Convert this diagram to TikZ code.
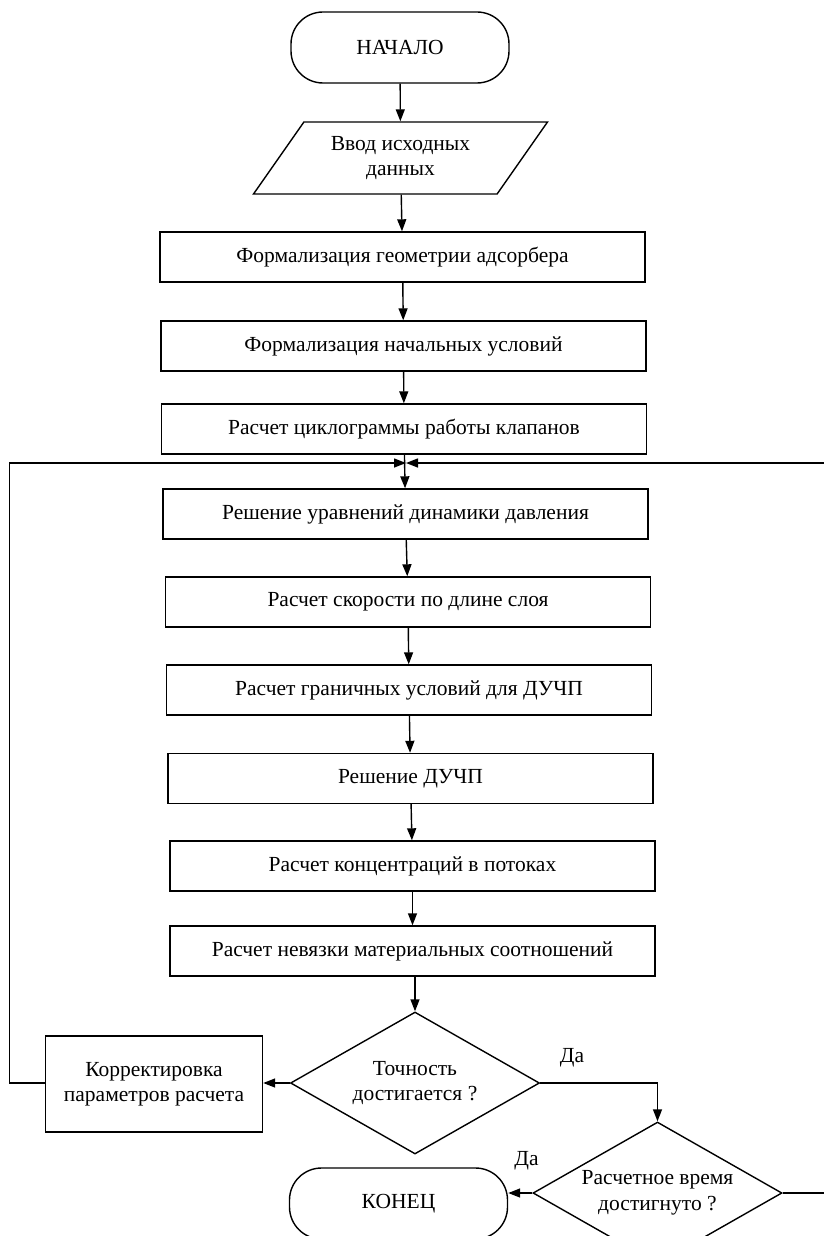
\documentclass[tikz,border=0pt]{standalone}
\usepackage{fontspec}
\setmainfont{Liberation Serif}
\usetikzlibrary{arrows.meta,positioning,shapes.geometric,shapes.misc}

\tikzset{
  blok/.style={draw, line width=1.4pt, minimum width=485pt, minimum height=50pt, inner sep=0pt},
  terminal/.style={draw, line width=1.4pt, rounded corners=32pt, minimum width=218pt, minimum height=71pt},
  romb/.style={draw, diamond, aspect=1.75, line width=1.4pt, minimum width=249pt, minimum height=142pt, inner sep=0pt, align=center},
  strelka/.style={line width=1.4pt, -{Triangle[length=12pt,width=9pt]}}
}

\begin{document}
\begin{tikzpicture}[x=1pt, y=-1pt, every node/.append style={font=\fontsize{21.5}{25.5}\selectfont}]
            \useasboundingbox (0,0) rectangle (823,1236);

            % Начало и ввод
            \node[terminal] (nachalo) at (400,47.5) {НАЧАЛО};
            \node[draw, trapezium, trapezium left angle=45, trapezium right angle=135,
                  trapezium stretches body, line width=1.4pt, minimum width=294pt,
                  minimum height=72pt, align=center] (vvod) at (400.5,158) {Ввод исходных\\данных};

            % Блоки
            \node[blok] (geom) at (402.5,257) {Формализация геометрии адсорбера};
            \node[blok] (usl) at (403.5,346) {Формализация начальных условий};
            \node[blok] (cikl) at (404,429) {Расчет циклограммы работы клапанов};
            \node[blok] (davl) at (405.5,514) {Решение уравнений динамики давления};
            \node[blok] (skor) at (408,602) {Расчет скорости по длине слоя};
            \node[blok] (gran) at (409,690) {Расчет граничных условий для ДУЧП};
            \node[blok] (duchp) at (410.5,778.5) {Решение ДУЧП};
            \node[blok] (konc) at (412.5,866) {Расчет концентраций в потоках};
            \node[blok] (nevyaz) at (412.5,951) {Расчет невязки материальных соотношений};

            % Условия
            \node[romb] (tochn) at (415,1083) {Точность\\достигается ?};
            \node[draw, line width=1.4pt, minimum width=217pt, minimum height=96pt, align=center]
                (korr) at (154,1084) {Корректировка\\параметров расчета};
            \node[romb] (vremya) at (657.5,1193) {Расчетное время\\достигнуто ?};
            \node[terminal] (konec) at (398.5,1203.5) {КОНЕЦ};

            % Подписи
            \node (da1) at (572,1058) {Да};
            \node (da2) at (526.5,1161) {Да};

            % Точки петли
            \coordinate (petlya) at (406,463);
            \coordinate (levo) at (9.5,463);
            \coordinate (pravo) at (835,463);

            % Стрелки
            \draw[strelka] (nachalo) -- (vvod);
            \draw[strelka] (vvod) -- (geom);
            \draw[strelka] (geom) -- (usl);
            \draw[strelka] (usl) -- (cikl);
            \draw[strelka] (cikl) -- (davl);
            \draw[strelka] (davl) -- (skor);
            \draw[strelka] (skor) -- (gran);
            \draw[strelka] (gran) -- (duchp);
            \draw[strelka] (duchp) -- (konc);
            \draw[strelka] (konc) -- (nevyaz);
            \draw[strelka] (nevyaz.south -| tochn.north) -- (tochn.north);
            \draw[strelka] (tochn.west) -- (korr.east |- tochn.west);
            \draw[strelka] (tochn.east) -| (vremya.north);
            \draw[strelka] (vremya.west) -- (konec.east |- vremya.west);

            % Петли
            \draw[strelka] (korr.west |- tochn.west) -| (levo) -- (petlya);
            \draw[strelka] (vremya.east) -| (pravo) -- (petlya);
        \end{tikzpicture}
\end{document}
